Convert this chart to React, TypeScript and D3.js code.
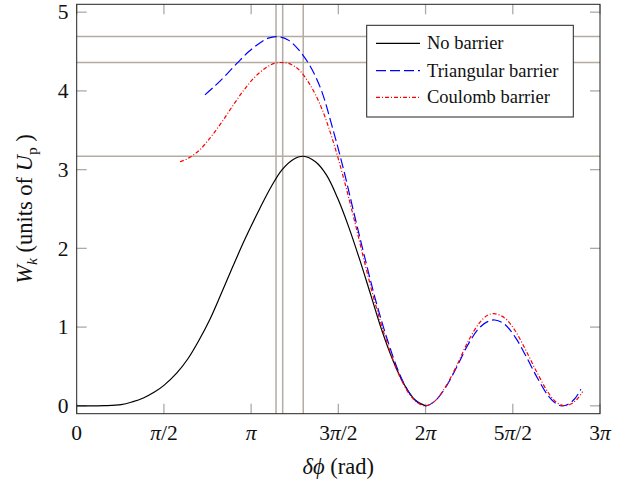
import React from "react";
import * as d3 from "d3";

const PI = Math.PI;

// x in radians, W in units of Up
const noBarrierX = [0, 0.5, 0.8, 1.0, 1.2, 1.4, 1.571, 1.8, 2.0, 2.2, 2.4, 2.6, 2.8, 3.0, 3.14, 3.3, 3.5, 3.7, 3.9, 4.08, 4.3, 4.5, 4.71, 4.9, 5.1, 5.3, 5.5, 5.7, 5.9, 6.1, 6.283];
const noBarrierW = [0, 0.002, 0.015, 0.05, 0.1, 0.175, 0.26, 0.415, 0.595, 0.83, 1.1, 1.42, 1.75, 2.07, 2.28, 2.51, 2.78, 3.0, 3.13, 3.17, 3.1, 2.93, 2.62, 2.27, 1.85, 1.4, 0.95, 0.57, 0.27, 0.07, 0];

const triangularX = [2.31, 2.5, 2.7, 2.9, 3.1, 3.3, 3.45, 3.6, 3.8, 4.0, 4.2, 4.4, 4.6, 4.8, 5.0, 5.2, 5.4, 5.6, 5.8, 6.0, 6.15, 6.283, 6.45, 6.65, 6.85, 7.05, 7.25, 7.4, 7.53, 7.7, 7.9, 8.1, 8.3, 8.5, 8.65, 8.74, 8.85, 8.97, 9.08];
const triangularW = [3.95, 4.07, 4.21, 4.36, 4.5, 4.61, 4.67, 4.69, 4.65, 4.52, 4.32, 4.02, 3.55, 3.02, 2.43, 1.85, 1.3, 0.83, 0.43, 0.15, 0.04, 0, 0.06, 0.24, 0.5, 0.78, 0.99, 1.07, 1.09, 1.04, 0.87, 0.62, 0.35, 0.12, 0.02, 0, 0.02, 0.09, 0.21];

const coulombX = [1.86, 2.0, 2.2, 2.4, 2.6, 2.8, 3.0, 3.2, 3.4, 3.56, 3.72, 3.85, 4.0, 4.2, 4.4, 4.6, 4.8, 5.0, 5.2, 5.4, 5.6, 5.8, 6.0, 6.15, 6.283, 6.45, 6.65, 6.85, 7.05, 7.25, 7.4, 7.52, 7.7, 7.9, 8.1, 8.3, 8.5, 8.65, 8.8, 8.92, 9.02, 9.11];
const coulombW = [3.1, 3.14, 3.24, 3.4, 3.59, 3.8, 4.0, 4.17, 4.29, 4.35, 4.36, 4.34, 4.27, 4.08, 3.8, 3.4, 2.91, 2.36, 1.78, 1.24, 0.78, 0.4, 0.14, 0.035, 0, 0.06, 0.25, 0.52, 0.82, 1.05, 1.15, 1.17, 1.12, 0.95, 0.69, 0.41, 0.16, 0.04, 0, 0.03, 0.09, 0.18];

const peakXs = [3.59, 3.71, 4.08];
const peakWs = [4.69, 4.36, 3.17];

const xTickValues = [0, PI / 2, PI, (3 * PI) / 2, 2 * PI, (5 * PI) / 2, 3 * PI];
const xTickLabels = ["0", "π/2", "π", "3π/2", "2π", "5π/2", "3π"];
const yTickValues = [0, 1, 2, 3, 4, 5];

const seriesNames = ["No barrier", "Triangular barrier", "Coulomb barrier"];

const W = 639;
const H = 484;
const left = 76.7;
const right = 600;
const top = 4.3;
const bottom = 413.7;
const FONT = "'Liberation Serif', 'Times New Roman', 'DejaVu Serif', serif";
const TICK_FS = 21.5;
const LABEL_FS = 22.5;

function PiLabel({ text, x, y }: { text: string; x: number; y: number }) {
  const parts = text.split("π");
  const nodes: React.ReactNode[] = [];
  parts.forEach((p, i) => {
    if (p) nodes.push(<tspan key={"p" + i}>{p}</tspan>);
    if (i < parts.length - 1) nodes.push(<tspan key={"pi" + i} fontStyle="italic">π</tspan>);
  });
  return (
    <text x={x} y={y} textAnchor="middle" fontFamily={FONT} fontSize={TICK_FS} fill="#111">
      {nodes}
    </text>
  );
}

export default function App() {
  const x = d3.scaleLinear().domain([0, 3 * PI]).range([left, right]);
  const y = d3.scaleLinear().domain([-0.1, 5.1]).range([bottom, top]);

  const line = d3
    .line<[number, number]>()
    .x((d) => x(d[0]))
    .y((d) => y(d[1]))
    .curve(d3.curveCatmullRom.alpha(0.5));

  const zip = (a: number[], b: number[]) => a.map((v, i) => [v, b[i]] as [number, number]);

  const series = [
    { name: seriesNames[0], d: line(zip(noBarrierX, noBarrierW)), color: "#000", dash: "none" },
    { name: seriesNames[1], d: line(zip(triangularX, triangularW)), color: "#0000ff", dash: "10,4" },
    { name: seriesNames[2], d: line(zip(coulombX, coulombW)), color: "#ff0000", dash: "4,2,1,2" },
  ];

  const gridColor = "#b5aba0";
  const tickColor = "#aaaaaa";

  const legX = 366.7;
  const legY = 25.3;
  const legW = 206.6;
  const legH = 91.7;
  const rowYs = [43.3, 70.7, 97.3];

  return (
    <svg width={W} height={H} style={{ position: "absolute", left: 0, top: 0, background: "#fff" }}>
      <defs>
        <clipPath id="plot">
          <rect x={left} y={top} width={right - left} height={bottom - top} />
        </clipPath>
      </defs>
      <rect x={0} y={0} width={W} height={H} fill="#fff" />
      {peakXs.map((v, i) => (
        <line key={"gx" + i} x1={x(v)} x2={x(v)} y1={top} y2={bottom} stroke={gridColor} strokeWidth={1.5} />
      ))}
      {peakWs.map((v, i) => (
        <line key={"gy" + i} x1={left} x2={right} y1={y(v)} y2={y(v)} stroke={gridColor} strokeWidth={1.5} />
      ))}
      {xTickValues.map((v, i) => (
        <g key={"xt" + i}>
          <line x1={x(v)} x2={x(v)} y1={bottom} y2={bottom - 10} stroke={tickColor} strokeWidth={1.3} />
          <line x1={x(v)} x2={x(v)} y1={top} y2={top + 10} stroke={tickColor} strokeWidth={1.3} />
          <PiLabel text={xTickLabels[i]} x={x(v)} y={440} />
        </g>
      ))}
      {yTickValues.map((v, i) => (
        <g key={"yt" + i}>
          <line x1={left} x2={left + 10} y1={y(v)} y2={y(v)} stroke={tickColor} strokeWidth={1.3} />
          <line x1={right} x2={right - 10} y1={y(v)} y2={y(v)} stroke={tickColor} strokeWidth={1.3} />
          <text x={68.5} y={y(v) + 7.3} textAnchor="end" fontFamily={FONT} fontSize={TICK_FS} fill="#111">
            {v}
          </text>
        </g>
      ))}
      <g clipPath="url(#plot)">
        {series.map((s, i) => (
          <path key={"s" + i} d={s.d || ""} fill="none" stroke={s.color} strokeWidth={1.2} strokeDasharray={s.dash} />
        ))}
      </g>
      <rect x={left} y={top} width={right - left} height={bottom - top} fill="none" stroke="#222" strokeWidth={1} />
      <rect x={legX} y={legY} width={legW} height={legH} fill="#fff" stroke="#222" strokeWidth={1} />
      {series.map((s, i) => (
        <g key={"lg" + i}>
          <line x1={376} x2={420} y1={rowYs[i]} y2={rowYs[i]} stroke={s.color} strokeWidth={1.2} strokeDasharray={s.dash} />
          <text x={427} y={rowYs[i] + 6} fontFamily={FONT} fontSize={18.5} fill="#111">
            {s.name}
          </text>
        </g>
      ))}
      <text x={(left + right) / 2} y={474} textAnchor="middle" fontFamily={FONT} fontSize={LABEL_FS} fill="#111">
        <tspan fontStyle="italic">δϕ</tspan>
        <tspan> (rad)</tspan>
      </text>
      <text
        transform={`translate(32, ${(top + bottom) / 2}) rotate(-90)`}
        textAnchor="middle"
        fontFamily={FONT}
        fontSize={LABEL_FS}
        fill="#111"
      >
        <tspan fontStyle="italic">W</tspan>
        <tspan fontStyle="italic" fontSize={15.5} dy={5}>k</tspan>
        <tspan dy={-5}> (units of </tspan>
        <tspan fontStyle="italic">U</tspan>
        <tspan fontSize={15.5} dy={5}>p</tspan>
        <tspan dy={-5}> )</tspan>
      </text>
    </svg>
  );
}
